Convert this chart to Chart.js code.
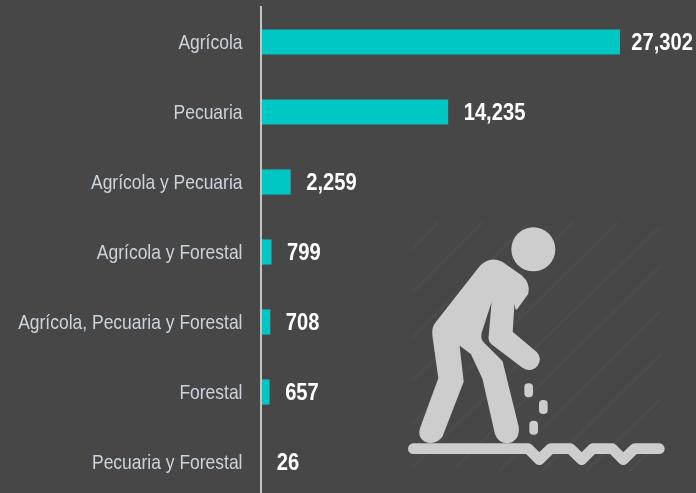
<!DOCTYPE html>
<html><head><meta charset="utf-8">
<style>
html,body{margin:0;padding:0;background:#474747;overflow:hidden;width:696px;height:493px}
#w{position:absolute;left:0;top:0;width:696px;height:497px}
#icon{position:absolute;left:400px;top:210px;width:296px;height:283px}
</style>
<script src="https://cdn.jsdelivr.net/npm/chart.js@4"></script>
</head><body>
<div id="w"><canvas id="c"></canvas></div>
<svg id="icon" viewBox="0 0 888 849">
<g stroke="#4b4b4b" stroke-width="10" stroke-linecap="round" fill="none">
<path d="M40 115L110 40M40 245L245 40M40 380L385 40M40 510L515 40M40 640L650 40M40 770L775 55M170 770L780 170M300 780L780 305M430 780L780 435M560 780L780 570M690 780L780 695"/>
</g>
<circle cx="400" cy="118" r="66" fill="#cdcdcd"/>
<path fill="#cdcdcd" stroke="#cdcdcd" stroke-width="6" stroke-linejoin="round" d="M240 172Q270 140 305 158L365 200Q388 220 382 250L349 296L342 255L335 367L408 428Q424 445 410 466Q392 486 368 470L278 402Q266 392 269 378L280 250L242 368Q238 390 250 400L305 455L353 650Q358 680 335 694Q300 704 288 672L250 505L215 430L175 400L188 515L125 678Q105 705 75 692Q55 678 63 655L118 505L100 375Q98 352 110 338Z"/>
<path fill="none" stroke="#cdcdcd" stroke-width="32" stroke-linecap="round" stroke-linejoin="round" d="M40 716H385L418 749L452 716H511L545 749L578 716H637L670 749L704 716H778"/>
<g fill="#cdcdcd"><rect x="373" y="520" width="26" height="42" rx="12"/><rect x="417" y="570" width="26" height="42" rx="12"/><rect x="388" y="632" width="26" height="42" rx="12"/></g>
</svg>
<script>
const categories = ["Agrícola","Pecuaria","Agrícola y Pecuaria","Agrícola y Forestal","Agrícola, Pecuaria y Forestal","Forestal","Pecuaria y Forestal"];
const values = [27302,14235,2259,799,708,657,26];
const valueLabels = ["27,302","14,235","2,259","799","708","657","26"];

function narrowText(ctx, text, px, py, align, sx){
  ctx.save();
  ctx.translate(px, py);
  ctx.scale(sx, 1);
  ctx.textAlign = align;
  ctx.textBaseline = 'middle';
  ctx.fillText(text, 0, 0);
  ctx.restore();
}
const textLayer = {
  id:'textLayer',
  afterDatasetsDraw(chart){
    const {ctx,scales:{x,y}} = chart;
    ctx.save();
    ctx.fillStyle='#cbd4de';
    ctx.font='21px "Liberation Sans"';
    categories.forEach((c,i)=>narrowText(ctx,c,242.5,y.getPixelForValue(i)+1,'right',0.832));
    ctx.fillStyle='#ffffff';
    ctx.font='bold 24px "Liberation Sans"';
    values.forEach((v,i)=>{
      const w=ctx.measureText(valueLabels[i]).width*0.84;
      const px=Math.min(x.getPixelForValue(v)+15.5, chart.width-3-w);
      narrowText(ctx,valueLabels[i],px,y.getPixelForValue(i)+1,'left',0.84);
    });
    ctx.restore();
  }
};
new Chart(document.getElementById('c'),{
  type:'bar',
  data:{labels:categories,datasets:[{data:values,backgroundColor:'#00c6c4',borderWidth:0,barPercentage:0.36,categoryPercentage:1}]},
  options:{
    indexAxis:'y',responsive:true,maintainAspectRatio:false,animation:false,
    layout:{padding:{top:7,right:0,bottom:0,left:0}},
    plugins:{legend:{display:false},tooltip:{enabled:false}},
    scales:{
      x:{display:false,min:0,max:33082},
      y:{
        afterFit(s){s.width=261;s.paddingTop=0;s.paddingBottom=0;},
        grid:{display:false,drawTicks:false},
        border:{display:true,color:'#c4c4c4',width:2,z:1},
        ticks:{display:false}
      }
    }
  },
  plugins:[textLayer]
});
</script>
</body></html>
